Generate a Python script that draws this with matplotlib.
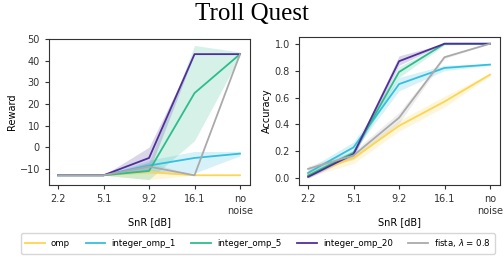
import numpy as np
import matplotlib
matplotlib.use("Agg")
import matplotlib.pyplot as plt

snr_labels = ["2.2", "5.1", "9.2", "16.1", "no\nnoise"]
methods = ["omp", "integer_omp_1", "integer_omp_5", "integer_omp_20", r"fista, $\lambda$ = 0.8"]
colors = ["#fdd54f", "#33c0e0", "#2dbd8c", "#4f2f99", "#aaaaaa"]

# reward: mean, lower, upper
reward_mean = [
    [-13, -13, -11.5, -13, -13],
    [-13, -13, -8.5, -5, -3],
    [-13, -13, -11, 25, 43],
    [-13, -13, -5, 43, 43],
    [-13, -13, -9, -13, 43],
]
reward_low = [
    [-13, -13, -15, -13, -13],
    [-13, -13, -11, -12, -4],
    [-13, -13, -15, 3, 42],
    [-13, -13, -11, 43, 43],
    [-13, -13, -12, -13, 43],
]
reward_high = [
    [-13, -13, -10, -13, -13],
    [-13, -13, -6, -2, -2],
    [-13, -13, -7, 47, 44],
    [-13, -13, 0, 43, 43],
    [-13, -13, -7, -13, 43],
]

# accuracy: mean, lower, upper
acc_mean = [
    [0.03, 0.15, 0.39, 0.57, 0.77],
    [0.04, 0.23, 0.70, 0.82, 0.845],
    [0.02, 0.19, 0.79, 1.0, 1.0],
    [0.01, 0.18, 0.87, 1.0, 1.0],
    [0.07, 0.17, 0.45, 0.90, 1.0],
]
acc_low = [
    [0.01, 0.11, 0.35, 0.53, 0.76],
    [0.02, 0.20, 0.65, 0.80, 0.84],
    [0.01, 0.17, 0.75, 0.99, 1.0],
    [0.00, 0.16, 0.84, 1.0, 1.0],
    [0.05, 0.14, 0.41, 0.89, 1.0],
]
acc_high = [
    [0.05, 0.18, 0.43, 0.61, 0.78],
    [0.07, 0.27, 0.75, 0.84, 0.85],
    [0.04, 0.21, 0.83, 1.0, 1.0],
    [0.03, 0.20, 0.91, 1.0, 1.0],
    [0.09, 0.20, 0.49, 0.91, 1.0],
]

plt.rcParams['font.size'] = 7
x = np.arange(len(snr_labels))

fig = plt.figure(figsize=(5.04, 2.61), dpi=100)
ax1 = fig.add_axes([49/504, 1-185/261, 201/504, 146/261])
ax2 = fig.add_axes([299/504, 1-185/261, 201/504, 148/261])

for i in range(len(methods)):
    ax1.plot(x, reward_mean[i], color=colors[i], lw=1.3, label=methods[i])
    ax1.fill_between(x, reward_low[i], reward_high[i], color=colors[i], alpha=0.2, lw=0)
    ax2.plot(x, acc_mean[i], color=colors[i], lw=1.3)
    ax2.fill_between(x, acc_low[i], acc_high[i], color=colors[i], alpha=0.2, lw=0)

ax1.set_ylim(-17.5, 50)
ax1.set_yticks([-10, 0, 10, 20, 30, 40, 50])
ax1.set_ylabel("Reward", labelpad=2)
ax2.set_ylim(-0.05, 1.05)
ax2.set_yticks([0.0, 0.2, 0.4, 0.6, 0.8, 1.0])
ax2.set_ylabel("Accuracy", labelpad=2)

for ax in (ax1, ax2):
    ax.set_xlim(-0.2, 4.22)
    ax.set_xticks(x)
    ax.set_xticklabels(snr_labels)
    ax.set_xlabel("SnR [dB]", labelpad=1)
    ax.tick_params(length=3, width=0.8, colors="#333333")
    for s in ax.spines.values():
        s.set_color("#333333")

fig.suptitle("Troll Quest", family="Liberation Serif", fontsize=18, y=0.99)

fig.legend(*ax1.get_legend_handles_labels(), loc="lower center", ncol=5,
           bbox_to_anchor=(258/504, 3/261), frameon=True, fontsize=6.2,
           handlelength=2.3, columnspacing=1.8, handletextpad=0.7,
           borderpad=0.5)

fig.savefig("out.png", dpi=100)
